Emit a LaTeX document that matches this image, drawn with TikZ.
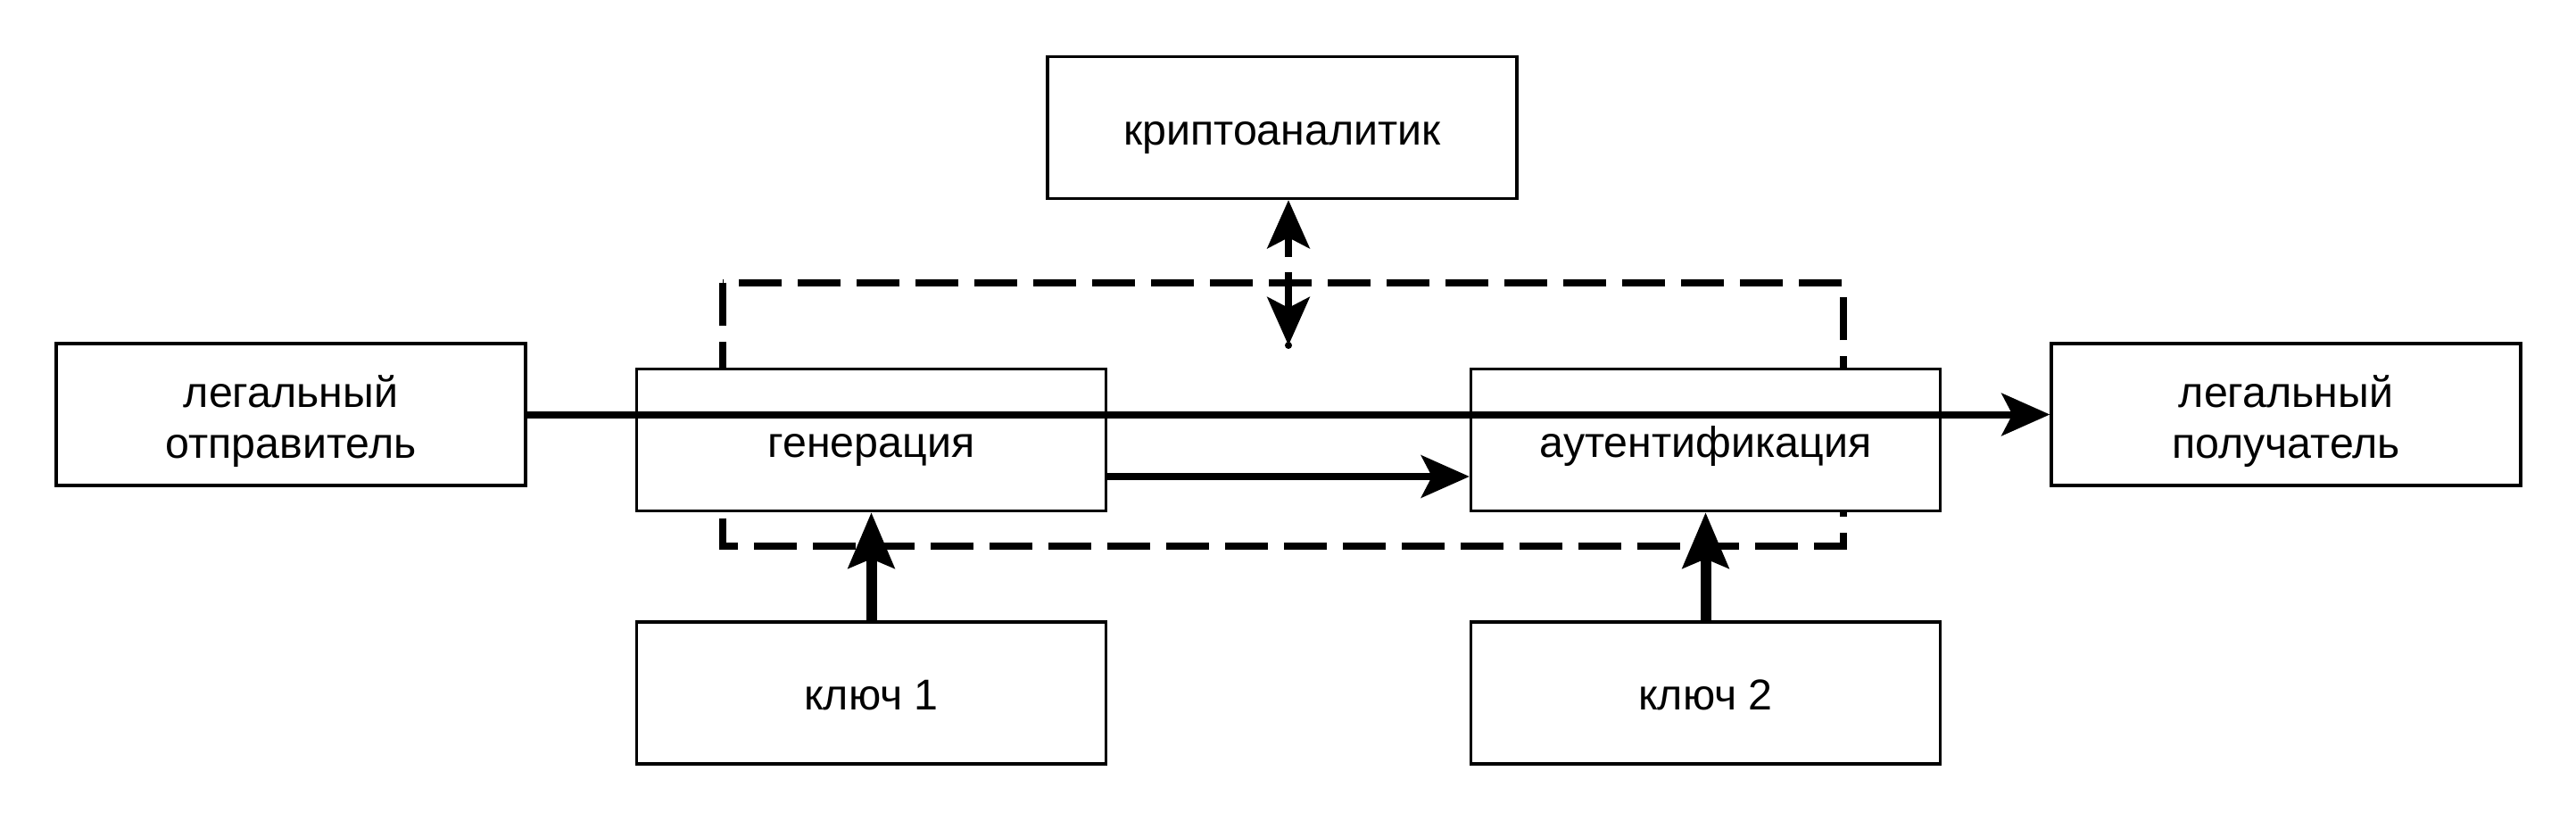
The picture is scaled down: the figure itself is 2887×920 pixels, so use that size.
\documentclass[tikz,border=0pt]{standalone}
\usepackage{fontspec}
\setmainfont{Liberation Sans}
\usetikzlibrary{arrows.meta}
\tikzset{
  px/.style={x=0.3pt,y=-0.3pt},
  blk/.style={draw=black, line width=1pt, fill=white, minimum width=157.8pt, minimum height=47.7pt,
    inner sep=0pt, align=center, font=\fontsize{14.5}{17.1}\selectfont,
    text height=14pt, text depth=2.4pt},
  two/.style={text height=31.7pt, text depth=2.4pt},
  tipS/.tip={Stealth[length=16.2pt, width=14.2pt, inset=3.6pt]},
  tipK/.tip={Stealth[length=18.6pt, width=15.3pt, inset=3pt]},
  conn/.style={line width=2.4pt, -tipS},
  kconn/.style={line width=3.6pt, -tipK},
  dconn/.style={line width=2.4pt, tipS-tipS},
  zone/.style={line width=2.4pt, dash pattern=on 14.4pt off 5.4pt},
}
\begin{document}
\begin{tikzpicture}[px]
\useasboundingbox (0,0) rectangle (2887,920);
% dashed zone (drawn first, boxes hide parts of it)
\coordinate (zoneA) at (810,317);
\coordinate (zoneB) at (2066,612);
\draw[zone] (zoneA) rectangle (zoneB);
% boxes
\node[blk, two] (sender) at (326,464.5) {легальный\\отправитель};
\node[blk] (gen) at (976.5,493) {генерация};
\node[blk] (key1) at (976.5,776.5) {ключ 1};
\node[blk] (crypt) at (1437,143) {криптоаналитик};
\node[blk] (auth) at (1911.5,493) {аутентификация};
\node[blk] (key2) at (1911.5,776.5) {ключ 2};
\node[blk, two] (recv) at (2562,464.5) {легальный\\получатель};
% connectors
\draw[conn] (sender.east) -- (recv.west);
\draw[conn] ([yshift=-12.3pt]gen.east) -- ([yshift=-12.3pt]auth.west);
\draw[kconn] (key1.north) -- (gen.south);
\draw[kconn] (key2.north) -- (auth.south);
\coordinate (tap) at (1444,387);
\draw[dconn, dash pattern=on 7.2pt off 5.1pt on 100pt] (crypt.south -| tap) -- (tap);
\fill (tap) circle (1.2pt);
\end{tikzpicture}
\end{document}
